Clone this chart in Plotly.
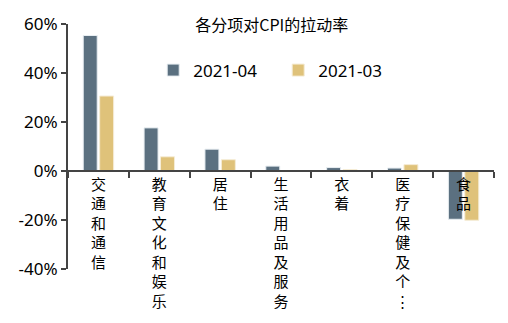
import plotly.graph_objects as go

categories = ["交通和通信", "教育文化和娱乐", "居住", "生活用品及服务", "衣着", "医疗保健及个…", "食品"]
tick_labels = ["交<br>通<br>和<br>通<br>信", "教<br>育<br>文<br>化<br>和<br>娱<br>乐", "居<br>住",
               "生<br>活<br>用<br>品<br>及<br>服<br>务", "衣<br>着", "医<br>疗<br>保<br>健<br>及<br>个<br>⋮", "食<br>品"]
s_2021_04 = [55.3, 17.6, 8.9, 2.0, 1.4, 1.2, -19.7]
s_2021_03 = [30.6, 5.8, 4.6, 0.0, 0.6, 2.6, -20.1]
y_ticks = [-40, -20, 0, 20, 40, 60]
y_tick_text = ["-40%", "-20%", "0%", "20%", "40%", "60%"]

dark = "#5b7080"
gold = "#dfc27a"
font = "Noto Sans CJK SC"

fig = go.Figure()
fig.add_trace(go.Bar(x=categories, y=s_2021_04, name="2021-04", marker=dict(color=dark, line=dict(color="#e8eef2", width=1))))
fig.add_trace(go.Bar(x=categories, y=s_2021_03, name="2021-03", marker=dict(color=gold, line=dict(color="#f5ecd6", width=1))))

fig.update_layout(
    width=508, height=323,
    margin=dict(l=68, r=14, t=13, b=52),
    paper_bgcolor="white", plot_bgcolor="white",
    bargap=0.46, bargroupgap=0.15,
    font=dict(family=font, color="black"),
    title=dict(text="各分项对CPI的拉动率", x=0.535, xanchor="center", y=0.92, yanchor="middle",
               font=dict(size=16, family=font, color="black")),
    legend=dict(orientation="h", x=0.2, y=0.81, xref="paper", xanchor="left", yanchor="middle",
                font=dict(size=17, family="Noto Sans"), itemwidth=30, bgcolor="rgba(0,0,0,0)",
                traceorder="normal", entrywidth=80),
    xaxis=dict(
        type="category", anchor="free", position=0.4,
        tickmode="array", tickvals=categories, ticktext=tick_labels,
        tickson="boundaries", ticks="outside", ticklen=6, tickcolor="#444", tickwidth=1.5,
        showline=True, linecolor="#444", linewidth=1.5, showgrid=False,
        tickangle=0, tickfont=dict(size=15, family=font), zeroline=False,
    ),
    yaxis=dict(
        range=[-40, 60], tickmode="array", tickvals=y_ticks, ticktext=y_tick_text,
        ticks="outside", ticklen=5, tickcolor="#444", tickwidth=1.5,
        showline=True, linecolor="#444", linewidth=2, showgrid=False, zeroline=False,
        tickfont=dict(size=17, family="Noto Sans"),
    ),
)

fig.write_html("out.html")
